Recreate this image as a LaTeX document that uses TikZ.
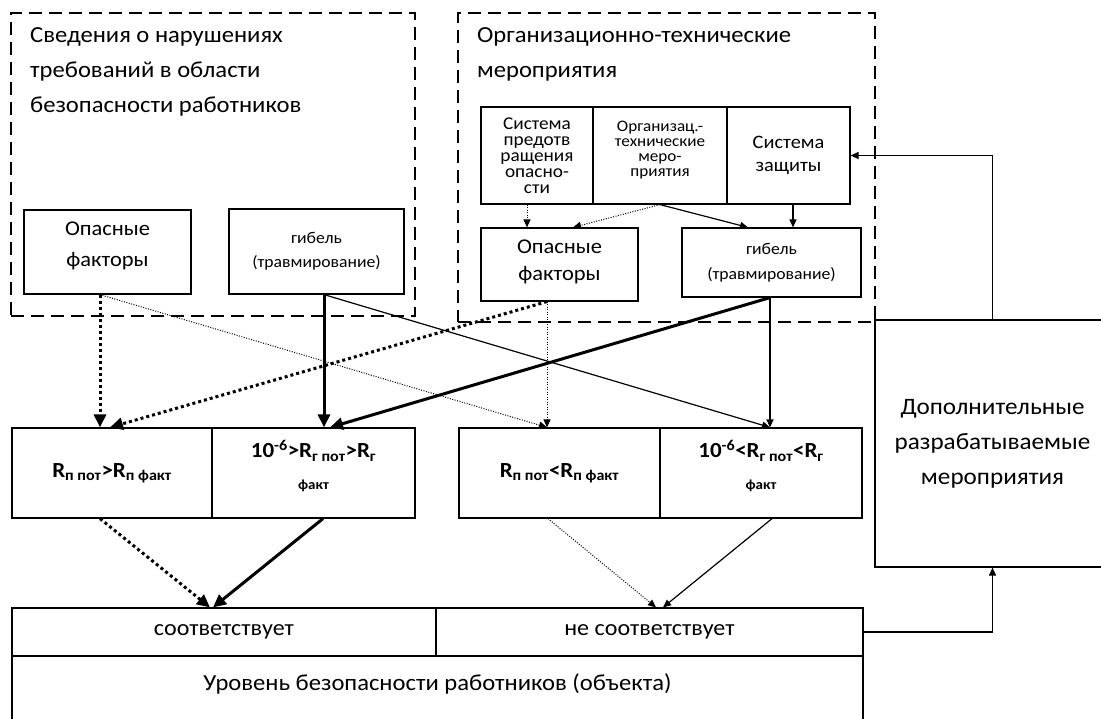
\documentclass[tikz,border=0pt]{standalone}
\usepackage{fontspec}
\setmainfont{Carlito}[FakeStretch=1.07]
\usetikzlibrary{arrows.meta}

\tikzset{
  box/.style={draw, line width=1.2pt, inner sep=0pt, align=center},
  group/.style={draw, line width=1.3pt, dash pattern=on 13pt off 7pt, inner sep=0pt},
  title/.style={inner sep=0pt, align=left, font=\fontsize{23}{35}\selectfont},
  boldarrow/.style={line width=3pt, -{Triangle[length=13pt,width=12pt]}},
  bolddots/.style={line width=3pt, dash pattern=on 3pt off 3pt, -{Triangle[length=13pt,width=12pt]}},
  thinarrow/.style={line width=1.2pt, -{Triangle[length=8pt,width=7pt]}},
  thindots/.style={line width=1pt, dash pattern=on 1pt off 1.5pt, -{Triangle[length=8pt,width=7pt]}}
}

\begin{document}
\begin{tikzpicture}[x=1pt, y=-1pt]
\useasboundingbox (0,0) rectangle (1101,718);

% Groups
\node[group, minimum width=404pt, minimum height=303pt] (grpL) at (213,164.5) {};
\node[group, minimum width=417pt, minimum height=309pt] (grpR) at (666.5,167.5) {};
\node[title, anchor=north west] (titL) at (30,27) {Сведения о нарушениях\\требований в области\\безопасности работников};
\node[title, anchor=north west] (titR) at (477,27) {Организационно-технические\\мероприятия};

% Left group
\node[box, minimum width=167pt, minimum height=84pt, font=\fontsize{21}{31}\selectfont] (op1) at (107.5,252) {Опасные\\факторы\\[-16pt]};
\node[box, minimum width=175pt, minimum height=85pt, font=\fontsize{16.5}{24}\selectfont] (gib1) at (316.5,251.5) {гибель\\(травмирование)};

% Right group
\node[box, minimum width=112pt, minimum height=97pt, font=\fontsize{18}{16}\selectfont] (sys1) at (537,155.5) {Система\\предотв\\ращения\\опасно-\\сти};
\node[box, minimum width=134pt, minimum height=97pt, font=\fontsize{16}{15}\selectfont] (org) at (660,155.5) {Организац.-\\технические\\меро-\\приятия\\[-1pt]};
\node[box, minimum width=123pt, minimum height=97pt, font=\fontsize{19}{23}\selectfont] (sys2) at (788.5,155.5) {Система\\защиты};
\node[box, minimum width=157pt, minimum height=73pt, font=\fontsize{21}{27}\selectfont] (op2) at (559.5,264.5) {Опасные\\факторы\\[-18pt]};
\node[box, minimum width=179pt, minimum height=69pt, font=\fontsize{16.5}{25}\selectfont] (gib2) at (771.5,262.5) {гибель\\(травмирование)};

% Risk boxes
\node[box, minimum width=200pt, minimum height=90pt, font=\fontsize{21.5}{32}\bfseries] (rL1) at (112,473) {R\textsubscript{п пот}>R\textsubscript{п факт}};
\node[box, minimum width=203pt, minimum height=90pt, font=\fontsize{21.5}{32}\bfseries] (rL2) at (313.5,473) {10\textsuperscript{-6}>R\textsubscript{г пот}>R\textsubscript{г}\\{\fontsize{14}{32}\selectfont факт}\\[-16pt]};
\node[box, minimum width=201pt, minimum height=90pt, font=\fontsize{21.5}{32}\bfseries] (rR1) at (559.5,473) {R\textsubscript{п пот}<R\textsubscript{п факт}};
\node[box, minimum width=202pt, minimum height=90pt, font=\fontsize{21.5}{32}\bfseries] (rR2) at (761,473) {10\textsuperscript{-6}<R\textsubscript{г пот}<R\textsubscript{г}\\{\fontsize{14}{32}\selectfont факт}\\[-16pt]};

% Result
\node[box, minimum width=424pt, minimum height=48pt, font=\fontsize{22.5}{25}\selectfont] (sootv) at (224,632) {соответствует};
\node[box, minimum width=427pt, minimum height=48pt, font=\fontsize{22.5}{25}\selectfont] (nesootv) at (649.5,632) {не соответствует};
\node[box, minimum width=851pt, minimum height=72pt, font=\fontsize{23}{25}\selectfont] (uroven) at (437.5,692) {\raisebox{20pt}{Уровень безопасности работников (объекта)}};
\node[box, minimum width=235pt, minimum height=247pt, font=\fontsize{23.5}{35}\selectfont] (dop) at (992.5,443.5) {Дополнительные\\разрабатываемые\\мероприятия};

% Arrows inside right group
\draw[thindots] ([xshift=-10pt]sys1.south) -- ([xshift=-10pt]sys1.south |- op2.north);
\draw[thindots] (org.south) -- ([xshift=13.5pt]op2.north);
\draw[thinarrow] (org.south) -- ([xshift=-23.5pt]gib2.north);
\draw[thinarrow] ([xshift=4.5pt]sys2.south) -- ([xshift=4.5pt]sys2.south |- gib2.north);

% Feedback
\draw[thinarrow] (dop.north) |- (sys2.east);
\draw[thinarrow] (nesootv.east) -| (dop.south);

% Factors to risk boxes
\draw[bolddots] ([xshift=-7.5pt]op1.south) -- ([xshift=-12pt]rL1.north);
\draw[thindots] ([xshift=-7.5pt]op1.south) -- ([xshift=-12.5pt]rR1.north);
\draw[boldarrow] ([xshift=7.5pt]gib1.south) -- ([xshift=10.5pt]rL2.north);
\draw[thinarrow] ([xshift=7.5pt]gib1.south) -- ([xshift=9pt]rR2.north);
\draw[bolddots] ([xshift=-12.5pt]op2.south) -- ([xshift=-2pt]rL1.north);
\draw[thindots] ([xshift=-12.5pt]op2.south) -- ([xshift=-12.5pt]rR1.north);
\draw[boldarrow] ([xshift=-1.5pt]gib2.south) -- ([xshift=16.5pt]rL2.north);
\draw[thinarrow] ([xshift=-1.5pt]gib2.south) -- ([xshift=9pt]rR2.north);

% Risk boxes to result
\draw[bolddots] ([xshift=-12pt]rL1.south) -- ([xshift=-14pt]sootv.north);
\draw[boldarrow] ([xshift=9.5pt]rL2.south) -- ([xshift=-11pt]sootv.north);
\draw[thindots] ([xshift=-11.5pt]rR1.south) -- ([xshift=6.5pt]nesootv.north);
\draw[thinarrow] ([xshift=11pt]rR2.south) -- ([xshift=13.5pt]nesootv.north);

\end{tikzpicture}
\end{document}
